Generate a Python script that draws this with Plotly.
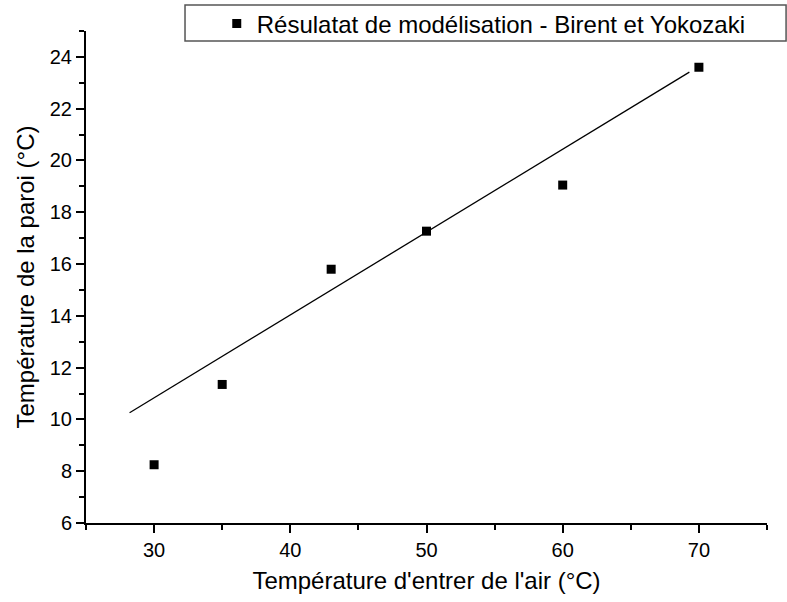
import plotly.graph_objects as go

# Data
x_air = [30, 35, 43, 50, 60, 70]
t_paroi = [8.25, 11.35, 15.8, 17.27, 19.05, 23.6]
fit_x = [28.2, 69.3]
fit_y = [10.26, 23.41]

series_name = "Résulatat de modélisation - Birent et Yokozaki"
x_title = "Température d'entrer de l'air (°C)"
y_title = "Température de la paroi (°C)"

FONT = "Liberation Sans, Arial, sans-serif"

fig = go.Figure()
fig.add_trace(go.Scatter(
    x=x_air, y=t_paroi, mode="markers", name=series_name,
    marker=dict(symbol="square", size=9, color="black", line=dict(width=0)),
))
fig.add_trace(go.Scatter(
    x=fit_x, y=fit_y, mode="lines", showlegend=False,
    line=dict(color="black", width=1.3),
))

axis_common = dict(
    showgrid=False, zeroline=False, showline=True, linecolor="black", linewidth=2,
    ticks="outside", ticklen=8, tickwidth=1.5, tickcolor="black",
    tickfont=dict(family=FONT, size=20, color="black"),
    mirror=False,
)

fig.update_layout(
    width=787, height=602,
    margin=dict(l=86, r=20, t=31, b=79, autoexpand=False),
    paper_bgcolor="white", plot_bgcolor="white",
    font=dict(family=FONT, color="black"),
    xaxis=dict(
        range=[25, 75], dtick=10, tick0=0,
        minor=dict(dtick=5, ticks="outside", ticklen=5, tickwidth=1.5, tickcolor="black"),
        title=dict(text=x_title, font=dict(family=FONT, size=24, color="black"), standoff=12),
        **axis_common,
    ),
    yaxis=dict(
        range=[6, 25], dtick=2, tick0=0,
        minor=dict(dtick=1, ticks="outside", ticklen=5, tickwidth=1.5, tickcolor="black"),
        title=dict(text=y_title, font=dict(family=FONT, size=24, color="black"), standoff=8),
        **axis_common,
    ),
    legend=dict(
        x=0.192, y=1.06, xanchor="left", yanchor="top",
        bgcolor="rgba(0,0,0,0)", borderwidth=0,
        font=dict(family=FONT, size=24, color="black"),
    ),
    showlegend=True,
    shapes=[dict(
        type="rect", xref="paper", yref="paper",
        x0=0.1454, x1=1.028, y0=0.9797, y1=1.0528,
        line=dict(color="#555555", width=1.5), fillcolor="rgba(0,0,0,0)", layer="above",
    )],
)

fig.write_html("out.html")
